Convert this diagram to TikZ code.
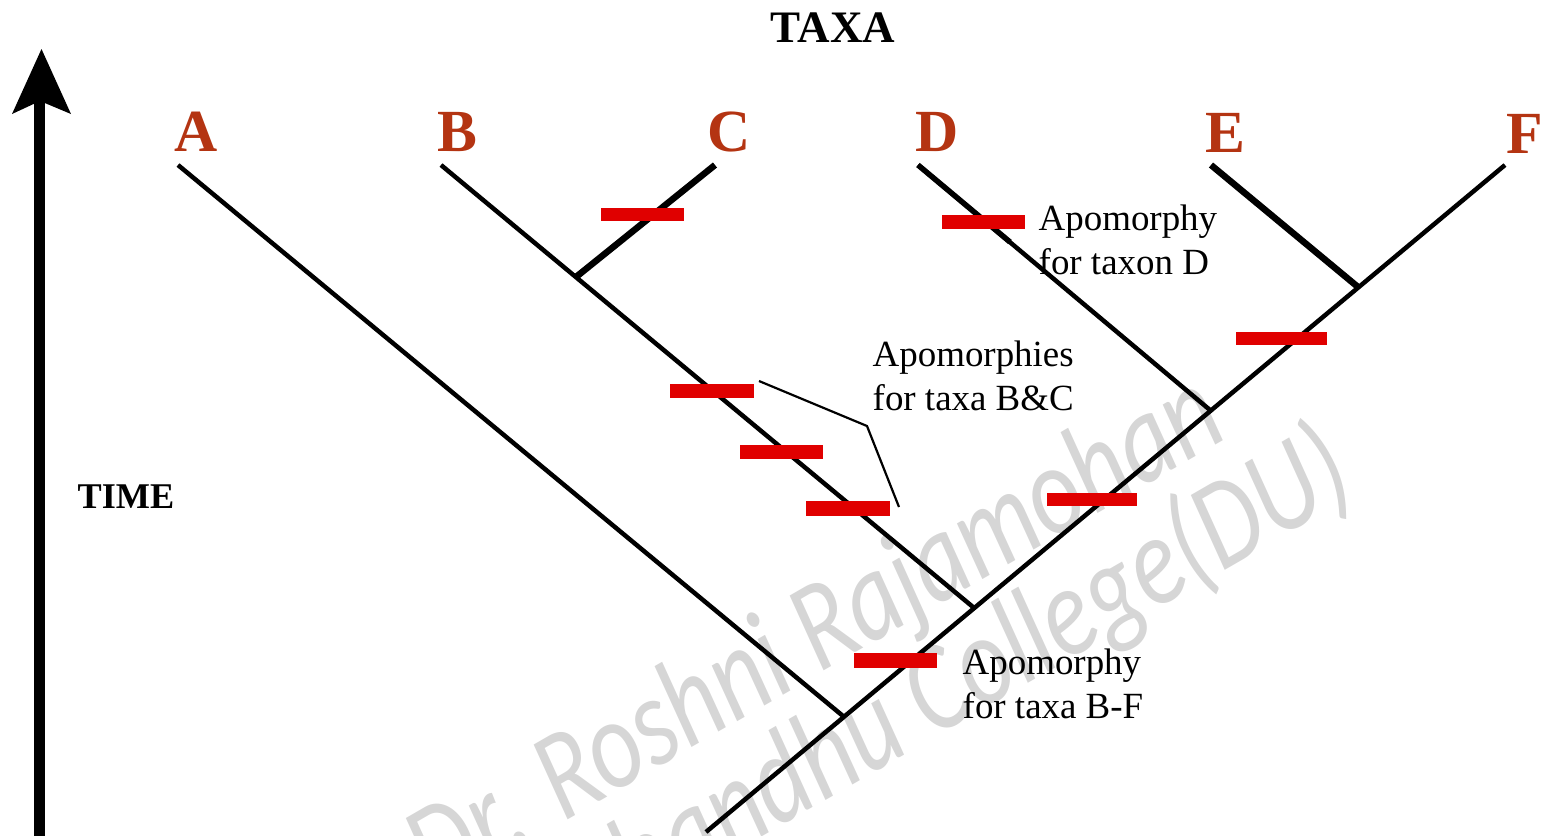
\documentclass[tikz,border=0pt]{standalone}
\usepackage{fontspec}
\setmainfont{Liberation Serif}
\newfontfamily\wmfont{Carlito}
\definecolor{taxred}{RGB}{180,52,18}
\definecolor{barred}{RGB}{224,0,0}
\definecolor{wmgray}{RGB}{214,214,214}
\begin{document}
\begin{tikzpicture}[x=0.01cm,y=-0.01cm,
  branch/.style={line width=4.5*0.01cm},
  thick branch/.style={line width=6.5*0.01cm},
  taxon/.style={font=\fontsize{17}{17}\selectfont\bfseries, text=taxred, anchor=base, inner sep=0pt},
  heading/.style={font=\fontsize{12.8}{12.8}\selectfont\bfseries, anchor=base, inner sep=0pt},
  note/.style={font=\fontsize{10.5}{12.4}\selectfont, align=left, anchor=base west, inner sep=0pt},
  apo/.style={fill=barred, draw=none, inner sep=0pt, minimum width=0.83cm, minimum height=0.135cm},
  wm/.style={font=\fontsize{29}{29}\selectfont\wmfont\itshape, text=wmgray, inner sep=0pt, rotate=30, yscale=1.25}
]
\useasboundingbox (0,0) rectangle (1547,835);
% watermark
\begin{scope}
\clip (0,0) rectangle (1547,835);
\node[wm, anchor=base east] (wm1) at (1232,436) {Dr. Roshni Rajamohan};
\node[wm, anchor=base east] (wm2) at (1360,492) {Deshbandhu College(DU)};
\end{scope}
% time arrow
\coordinate (tbot) at (39.5,840);
\coordinate (ttop) at (39.5,100);
\draw[line width=0.1cm] (tbot) -- (ttop);
\fill (41.5,49) -- (71,114) -- (40,101) -- (12,114) -- cycle;
% headings
\node[heading] (taxa) at (833,42) {TAXA};
\node[heading, anchor=base west, font=\fontsize{10.3}{10.3}\selectfont\bfseries] (time) at (77,508) {TIME};
% taxon labels
\node[taxon] (lA) at (196,151) {A};
\node[taxon] (lB) at (457,151) {B};
\node[taxon] (lC) at (729,151) {C};
\node[taxon] (lD) at (937,151) {D};
\node[taxon] (lE) at (1225,152) {E};
\node[taxon] (lF) at (1525,153) {F};
% tree coordinates
\coordinate (tA) at (178,165);
\coordinate (tB) at (441,165);
\coordinate (tC) at (715,165);
\coordinate (tD) at (918,165);
\coordinate (tE) at (1211,165);
\coordinate (tF) at (1505,165);
\coordinate (root) at (706,832);
\coordinate (jA) at (843,716);
\coordinate (jBC) at (973,607);
\coordinate (jC) at (576,277);
\coordinate (jD) at (1210,410);
\coordinate (jEF) at (1358,287);
\coordinate (jDtop) at (1010,242);
% branches
\draw[branch] (root) -- (tF);
\draw[branch] (tA) -- (jA);
\draw[branch] (tB) -- (jBC);
\draw[thick branch] (tC) -- (jC);
\draw[branch] (tD) -- (jD);
\draw[line width=5.5*0.01cm] (tD) -- (jDtop);
\draw[thick branch] (tE) -- (jEF);
% apomorphy bars
\node[apo] (mC) at (642.5,214.5) {};
\node[apo] (mD) at (983.5,222) {};
\node[apo] (mBC1) at (712,391) {};
\node[apo] (mBC2) at (781.5,452) {};
\node[apo, minimum height=0.15cm] (mBC3) at (848,508.5) {};
\node[apo, minimum width=0.9cm] (mDEF) at (1092,499.5) {};
\node[apo, minimum width=0.91cm] (mEF) at (1281.5,338.5) {};
\node[apo, minimum height=0.145cm] (mBF) at (895.5,660.5) {};
% notes (anchor is the baseline of the last line)
\node[note] (nD) at (1038,274) {Apomorphy\\for taxon D};
\node[note] (nBC) at (872,410) {Apomorphies\\for taxa B\&C};
\node[note] (nBF) at (962,718) {Apomorphy\\for taxa B-F};
% leader
\coordinate (ld1) at (759,381);
\coordinate (ld2) at (867,426);
\coordinate (ld3) at (899,507);
\draw[line width=2.2*0.01cm] (ld1) -- (ld2) -- (ld3);
\end{tikzpicture}
\end{document}
